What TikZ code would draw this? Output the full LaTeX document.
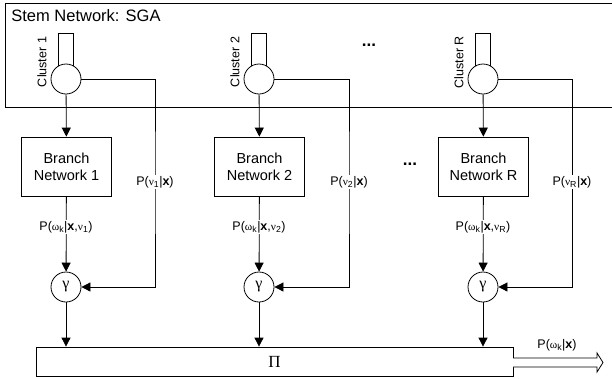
\documentclass[tikz,border=0pt]{standalone}
\usepackage{fontspec}
\setmainfont{Liberation Sans}
\newfontfamily\grk[Scale=0.9]{Liberation Serif}
\newfontfamily\bgrk{Liberation Serif}
\usetikzlibrary{arrows.meta,calc}
\begin{document}
\begin{tikzpicture}[x=1pt,y=-1pt,
  line width=0.8pt,
  arr/.style={-{Triangle[length=9pt,width=9pt]}},
  boxnet/.style={draw, minimum width=90pt, minimum height=59pt, inner sep=0pt, font=\fontsize{14.5}{17}\selectfont, align=center},
  clus/.style={draw, circle, fill=white, minimum size=30pt, inner sep=0pt},
  gam/.style={draw, circle, fill=white, minimum size=30pt, inner sep=0pt, font=\fontsize{16}{16}\selectfont},
  lab/.style={fill=white, inner sep=1pt, font=\fontsize{12.5}{14}\selectfont},
  clab/.style={rotate=90, inner sep=0pt, font=\fontsize{12.5}{14}\selectfont},
  dotsty/.style={inner sep=0pt, font=\fontsize{17}{17}\selectfont\bfseries},
]
\useasboundingbox (0,0) rectangle (612,378);
% stem network box (right side runs off the page)
\draw (614,3) -- (5,3) -- (5,107) -- (614,107);
\node[anchor=west, inner sep=0pt, font=\fontsize{16.5}{19}\selectfont] (stem) at (11,16) {Stem Network: SGA};

% clusters
\foreach \i/\cx/\rx/\tag in {1/66/155/1, 2/259/349/2, 3/483/572/R}{
  \draw (\cx-7.5,67) -- (\cx-7.5,33) -- (\cx+7.5,33) -- (\cx+7.5,67);
  \node[clus] (cl\i) at (\cx,79) {};
  \node[clab] (ct\i) at (\cx-24,62) {Cluster \tag};
  \node[boxnet] (br\i) at (\cx+0.5,166.5) {Branch\\Network \tag};
  \node[gam] (g\i) at (\cx,287) {\bgrk γ};
  \coordinate (k\i) at (\rx,182);
  \coordinate (m\i) at (\cx,227);
  \draw[arr] (cl\i) -- (br\i);
  \draw[arr] (br\i) -- (g\i);
  \draw[arr] (cl\i.east) -| (k\i) |- (g\i.east);
}
\node[lab] (pv1) at (k1) {P({\grk ν}\textsubscript{1}|\textbf{x})};
\node[lab] (pv2) at (k2) {P({\grk ν}\textsubscript{2}|\textbf{x})};
\node[lab] (pv3) at (k3) {P({\grk ν}\textsubscript{R}|\textbf{x})};
\node[lab] (pw1) at (m1) {P({\grk ω}\textsubscript{k}|\textbf{x},{\grk ν}\textsubscript{1})};
\node[lab] (pw2) at (m2) {P({\grk ω}\textsubscript{k}|\textbf{x},{\grk ν}\textsubscript{2})};
\node[lab] (pw3) at (m3) {P({\grk ω}\textsubscript{k}|\textbf{x},{\grk ν}\textsubscript{R})};

% dots
\node[dotsty] (d1) at (369,45) {...};
\node[dotsty] (d2) at (410,164) {...};

% product box
\node[draw, minimum width=477pt, minimum height=29pt, inner sep=0pt] (prod) at (274.5,361.5) {};
\node[font=\fontsize{17}{17}\selectfont] (pi) at (prod) {\bgrk Π};
\foreach \i in {1,2,3}{
  \draw[arr] (g\i) -- (g\i |- prod.north);
}
\coordinate (o1) at (513,358);
\coordinate (o2) at (597,358);
\coordinate (o3) at (597,353);
\coordinate (out) at (603,362.5);
\coordinate (o5) at (597,372);
\coordinate (o6) at (597,367);
\coordinate (o7) at (513,367);
\draw[fill=white, line join=miter] (o1) -- (o2) -- (o3) -- (out) -- (o5) -- (o6) -- (o7);
\node[font=\fontsize{12.5}{14}\selectfont] (pout) at (557,345) {P({\grk ω}\textsubscript{k}|\textbf{x})};
\end{tikzpicture}
\end{document}
